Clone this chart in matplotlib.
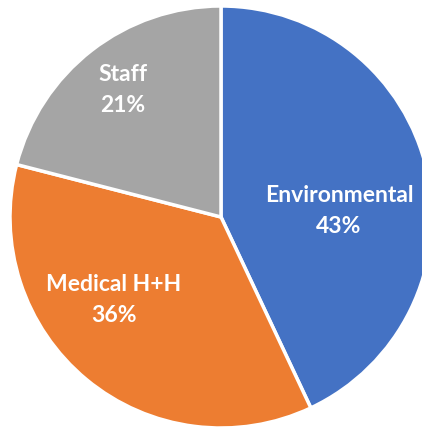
import matplotlib.pyplot as plt

labels = ['Environmental', 'Medical H+H', 'Staff']
shares = [43, 36, 21]
colors = ['#4472C4', '#ED7D31', '#A5A5A5']

# label centres in pixel coords (y measured from the bottom)
label_pos = [(339, 218), (114, 129), (123, 339)]

fig = plt.figure(figsize=(4.22, 4.29), dpi=100)
ax = fig.add_axes([0, 0, 1, 1])
ax.pie(shares, colors=colors, startangle=90, counterclock=False,
       radius=211, center=(221, 212),
       wedgeprops=dict(edgecolor='white', linewidth=2.5))
ax.set_xlim(0, 422)
ax.set_ylim(0, 429)
ax.set_aspect('equal')
ax.axis('off')

for name, v, (x, y) in zip(labels, shares, label_pos):
    ax.text(x, y, '%s\n%d%%' % (name, v), ha='center', va='center',
            color='white', fontsize=16.5, fontweight='bold', family='Lato',
            linespacing=1.55)

plt.savefig('out.png', dpi=100)
